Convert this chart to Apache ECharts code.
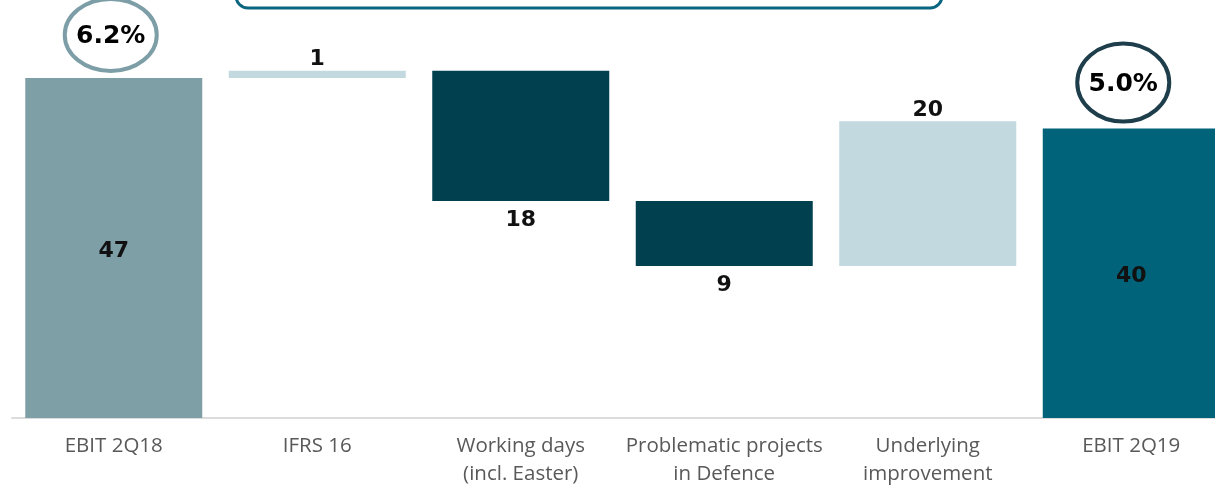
<!DOCTYPE html>
<html>
<head>
<meta charset="utf-8">
<script src="https://cdn.jsdelivr.net/npm/echarts@6/dist/echarts.min.js"></script>
<style>
  html, body { margin: 0; padding: 0; background: #ffffff; overflow: hidden; }
  #chart { width: 1215px; height: 485px; }
</style>
</head>
<body>
<div id="chart"></div>
<script>
// EBIT bridge, 2Q18 -> 2Q19 (MEUR)
const categories = [
  'EBIT 2Q18',
  'IFRS 16',
  'Working days\n(incl. Easter)',
  'Problematic projects\nin Defence',
  'Underlying\nimprovement',
  'EBIT 2Q19'
];
const amounts = [47, 1, 18, 9, 20, 40];
const kinds = ['total', 'up', 'down', 'down', 'up', 'total'];
const barColors = ['#7f9fa7', '#c1d9df', '#01404f', '#01404f', '#c1d9df', '#00637a'];
const marginLabels = ['6.2%', null, null, null, null, '5.0%'];
const marginRingColors = ['#7d9ea6', null, null, null, null, '#1d3e4a'];

// Running level for the floating steps
const baseValues = [];
const stepValues = [];
let level = 0;
kinds.forEach((k, i) => {
  const v = amounts[i];
  if (k === 'total') {
    baseValues.push(0);
    stepValues.push(v);
    level = v;
  } else if (k === 'up') {
    baseValues.push(level);
    stepValues.push(v);
    level += v;
  } else {
    level -= v;
    baseValues.push(level);
    stepValues.push(v);
  }
});

const labelPos = { total: 'inside', up: 'top', down: 'bottom' };
const labelGap = { total: 0, up: 0, down: 8 };
const labelShift = { total: [0, 3], up: [0, 0], down: [0, 0] };

const chart = echarts.init(document.getElementById('chart'), null, { renderer: 'canvas' });

const option = {
  animation: false,
  backgroundColor: '#ffffff',
  grid: {
    left: 12,
    top: 20,
    width: 1221,
    height: 398,
    containLabel: false,
    outerBoundsMode: 'none'
  },
  xAxis: {
    type: 'category',
    data: categories,
    axisLine: { show: true, lineStyle: { color: '#dcdcdc', width: 2 } },
    axisTick: { show: false },
    axisLabel: {
      interval: 0,
      margin: 14,
      color: '#595959',
      fontFamily: 'Open Sans',
      fontSize: 20.5,
      lineHeight: 28
    }
  },
  yAxis: {
    type: 'value',
    min: 0,
    max: 55,
    show: false,
    splitLine: { show: false }
  },
  series: [
    {
      name: 'base',
      type: 'bar',
      stack: 'bridge',
      barWidth: 177,
      itemStyle: { color: 'transparent' },
      emphasis: { disabled: true },
      data: baseValues
    },
    {
      name: 'step',
      type: 'bar',
      stack: 'bridge',
      barWidth: 177,
      data: stepValues.map((v, i) => ({
        value: v,
        itemStyle: { color: barColors[i] },
        label: {
          show: true,
          position: labelPos[kinds[i]],
          distance: labelGap[kinds[i]],
          offset: labelShift[kinds[i]],
          formatter: String(amounts[i]),
          color: '#111111',
          fontFamily: 'DejaVu Sans',
          fontWeight: 'bold',
          fontSize: 22
        }
      }))
    }
  ]
};

chart.setOption(option);

// Margin rings above the total bars and the callout frame at the top
const graphics = [
  {
    type: 'rect',
    shape: { x: 236, y: -30, width: 706, height: 38, r: 12 },
    style: { fill: 'none', stroke: '#0a6680', lineWidth: 3 }
  }
];
const ringShape = { 0: { rx: 46, ry: 36, dx: -3, dy: 43 }, 5: { rx: 46, ry: 39, dx: -8, dy: 46 } };
marginLabels.forEach((txt, i) => {
  if (!txt) return;
  const p = chart.convertToPixel({ xAxisIndex: 0, yAxisIndex: 0 }, [i, amounts[i]]);
  const s = ringShape[i];
  const cx = p[0] + s.dx;
  const cy = p[1] - s.dy;
  graphics.push({
    type: 'ellipse',
    shape: { cx: cx, cy: cy, rx: s.rx, ry: s.ry },
    style: { fill: '#ffffff', stroke: marginRingColors[i], lineWidth: 4 }
  });
  graphics.push({
    type: 'text',
    x: cx,
    y: cy + 2,
    style: {
      text: txt,
      align: 'center',
      verticalAlign: 'middle',
      fill: '#000000',
      font: 'bold 25px "DejaVu Sans", sans-serif'
    }
  });
});
chart.setOption({ graphic: graphics });
</script>
</body>
</html>
